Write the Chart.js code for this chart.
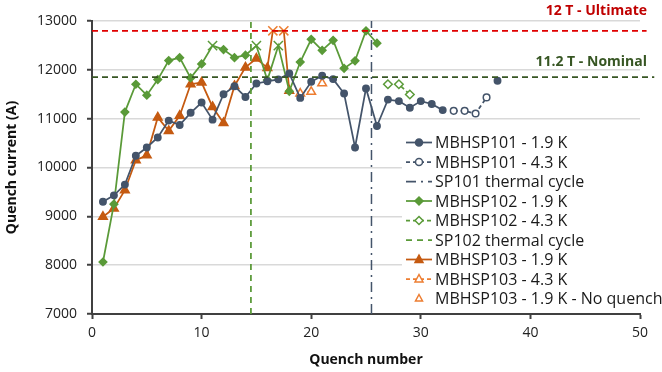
<!DOCTYPE html>
<html>
<head>
<meta charset="utf-8">
<script src="https://cdn.jsdelivr.net/npm/chart.js@4"></script>
<style>
  html, body { margin: 0; padding: 0; background: #fff; }
  #wrap { width: 662px; height: 372px; }
</style>
</head>
<body>
<div id="wrap"><canvas id="quenchChart" width="662" height="372"></canvas></div>
<script>
// quench numbers and currents (A)
let sp101Cold = [9300, 9430, 9650, 10240, 10410, 10615, 10960, 10870, 11120, 11330, 10980, 11500, 11665, 11445, 11720, 11765,
  11805, 11925, 11425, 11755, 11880, 11810, 11515, 10410, 11620, 10850, 11390, 11360, 11225, 11360, 11300, 11175];
let sp101ColdLast = { x: 37, y: 11775 };
let sp101WarmX = [33, 34, 35, 36];
let sp101Warm = [11160, 11160, 11105, 11435];

let sp102Cold = [8065, 9250, 11135, 11705, 11480, 11800, 12190, 12250, 11835, 12120, 12495, 12415, 12250, 12300, 12495, 11790,
  12495, 11560, 12160, 12625, 12400, 12605, 12030, 12185, 12800, 12545];
let sp102NoQuenchX = [11, 15, 17]; // drawn as X markers
let sp102WarmX = [27, 28, 29];
let sp102Warm = [11705, 11705, 11495];

let sp103ColdX = [1, 2, 3, 4, 5, 6, 7, 8, 9, 10, 11, 12, 13, 14, 15, 16, 16.5, 17.5, 18];
let sp103Cold = [8990, 9160, 9535, 10150, 10250, 11025, 10750, 11060, 11705, 11740, 11240, 10910, 11670, 12050, 12230, 12040,
  12800, 12800, 11570];
let sp103CrossX = [16.5, 17.5];
let sp103WarmX = [19, 20];
let sp103Warm = [11515, 11550];
let sp103NoQuench = { x: 21, y: 11725 };

let thermalCycle101 = 25.5;
let thermalCycle102 = 14.5;
let ultimateCurrent = 12800;
let nominalCurrent = 11850;

let navy = '#44546A';
let green = '#5A9A38';
let orange = '#C55A11';
let lightOrange = '#ED7D31';
let darkGreen = '#375623';
let red = '#E00000';

function seq(values, start) {
  return values.map((v, i) => ({ x: start + i, y: v }));
}
function pairs(xs, ys) {
  return xs.map((x, i) => ({ x: x, y: ys[i] }));
}

let sp101ColdData = seq(sp101Cold, 1);
sp101ColdData.push({ x: 34, y: null });
sp101ColdData.push(sp101ColdLast);

// draws the legend box like the spreadsheet one, on the right
const legendBox = {
  id: 'legendBox',
  afterDatasetsDraw(chart) {
    let ctx = chart.ctx;
    let items = [
      { text: 'MBHSP101 - 1.9 K', color: navy, dash: [], marker: 'circle', fill: true },
      { text: 'MBHSP101 - 4.3 K', color: navy, dash: [4, 3], marker: 'circle', fill: false },
      { text: 'SP101 thermal cycle', color: navy, dash: [10, 5, 2, 5], marker: null },
      { text: 'MBHSP102 - 1.9 K', color: green, dash: [], marker: 'diamond', fill: true },
      { text: 'MBHSP102 - 4.3 K', color: green, dash: [4, 3], marker: 'diamond', fill: false },
      { text: 'SP102 thermal cycle', color: green, dash: [6, 5], marker: null },
      { text: 'MBHSP103 - 1.9 K', color: orange, dash: [], marker: 'triangle', fill: true },
      { text: 'MBHSP103 - 4.3 K', color: lightOrange, dash: [4, 3], marker: 'triangle', fill: false },
      { text: 'MBHSP103 - 1.9 K - No quench', color: lightOrange, dash: null, marker: 'triangle', fill: false, small: true }
    ];
    ctx.save();
    ctx.fillStyle = '#fff';
    ctx.fillRect(402, 133, 260, 174);
    ctx.font = '16px "Open Sans"';
    ctx.textBaseline = 'middle';
    items.forEach((it, i) => {
      let y = 142.5 + i * 19.5;
      if (it.dash) {
        ctx.strokeStyle = it.color;
        ctx.lineWidth = 1.75;
        ctx.setLineDash(it.dash);
        ctx.beginPath();
        ctx.moveTo(406, y);
        ctx.lineTo(432, y);
        ctx.stroke();
        ctx.setLineDash([]);
      }
      if (it.marker) {
        drawMarker(ctx, it.marker, 419, y, it.small ? 3 : 3.5, it.color, it.fill);
      }
      ctx.fillStyle = '#1a1a1a';
      ctx.fillText(it.text, 435, y + 1);
    });
    ctx.restore();
  }
};

function drawMarker(ctx, kind, x, y, r, color, fill) {
  ctx.beginPath();
  if (kind === 'circle') {
    ctx.arc(x, y, r, 0, Math.PI * 2);
  } else if (kind === 'diamond') {
    ctx.moveTo(x, y - r - 0.5);
    ctx.lineTo(x + r + 0.5, y);
    ctx.lineTo(x, y + r + 0.5);
    ctx.lineTo(x - r - 0.5, y);
    ctx.closePath();
  } else {
    ctx.moveTo(x, y - r - 1);
    ctx.lineTo(x + r + 0.5, y + r - 0.5);
    ctx.lineTo(x - r - 0.5, y + r - 0.5);
    ctx.closePath();
  }
  ctx.lineWidth = 1.5;
  ctx.strokeStyle = color;
  ctx.fillStyle = fill ? color : '#fff';
  ctx.fill();
  ctx.stroke();
}

// limit labels written in the top right
const limitLabels = {
  id: 'limitLabels',
  afterDraw(chart) {
    let ctx = chart.ctx;
    ctx.save();
    ctx.font = 'bold 14px "Open Sans"';
    ctx.textAlign = 'right';
    ctx.textBaseline = 'middle';
    ctx.fillStyle = '#C00000';
    ctx.fillText('12 T - Ultimate', 647, 11);
    ctx.fillStyle = darkGreen;
    ctx.fillText('11.2 T - Nominal', 647, 62);
    ctx.restore();
  }
};

function lineSet(label, data, color, opts) {
  return Object.assign({
    label: label,
    data: data,
    borderColor: color,
    backgroundColor: color,
    pointBorderColor: color,
    showLine: true,
    borderWidth: 1.75,
    pointRadius: 4,
    pointBorderWidth: 1.5,
    spanGaps: false,
    tension: 0
  }, opts || {});
}

let ctx = document.getElementById('quenchChart').getContext('2d');

let chart = new Chart(ctx, {
  type: 'scatter',
  data: {
    datasets: [
      lineSet('12 T - Ultimate', [{ x: 0, y: ultimateCurrent }, { x: 50.6, y: ultimateCurrent }], red,
        { borderDash: [6, 4], pointRadius: 0, borderWidth: 1.75, clip: false }),
      lineSet('11.2 T - Nominal', [{ x: 0, y: nominalCurrent }, { x: 51.3, y: nominalCurrent }], darkGreen,
        { borderDash: [6, 4], pointRadius: 0, borderWidth: 1.75, clip: false }),
      lineSet('SP101 thermal cycle', [{ x: thermalCycle101, y: 7000 }, { x: thermalCycle101, y: 13000 }], navy,
        { borderDash: [10, 5, 2, 5], pointRadius: 0, borderWidth: 1.5 }),
      lineSet('SP102 thermal cycle', [{ x: thermalCycle102, y: 7000 }, { x: thermalCycle102, y: 13000 }], green,
        { borderDash: [6, 5], pointRadius: 0, borderWidth: 1.75 }),
      lineSet('MBHSP101 - 1.9 K', sp101ColdData, navy, { pointStyle: 'circle', pointRadius: 3.2 }),
      lineSet('MBHSP101 - 4.3 K', pairs(sp101WarmX, sp101Warm), navy,
        { borderDash: [4, 3], pointStyle: 'circle', pointRadius: 3.3, pointBackgroundColor: '#fff' }),
      lineSet('MBHSP102 - 1.9 K', seq(sp102Cold, 1), green, {
        pointStyle: ctx => sp102NoQuenchX.includes(ctx.raw && ctx.raw.x) ? 'crossRot' : 'rectRot',
        pointRadius: ctx => sp102NoQuenchX.includes(ctx.raw && ctx.raw.x) ? 6.5 : 3.8
      }),
      lineSet('MBHSP102 - 4.3 K', pairs(sp102WarmX, sp102Warm), green,
        { borderDash: [4, 3], pointStyle: 'rectRot', pointRadius: 4.3, pointBackgroundColor: '#fff' }),
      lineSet('MBHSP103 - 1.9 K', pairs(sp103ColdX, sp103Cold), orange, {
        pointStyle: ctx => sp103CrossX.includes(ctx.raw && ctx.raw.x) ? 'crossRot' : 'triangle',
        pointRadius: ctx => sp103CrossX.includes(ctx.raw && ctx.raw.x) ? 6.5 : 5,
        pointBorderColor: ctx => sp103CrossX.includes(ctx.raw && ctx.raw.x) ? lightOrange : orange
      }),
      lineSet('MBHSP103 - 4.3 K', pairs(sp103WarmX, sp103Warm), lightOrange,
        { borderDash: [4, 3], pointStyle: 'triangle', pointRadius: 5, pointBackgroundColor: '#fff' }),
      lineSet('MBHSP103 - 1.9 K - No quench', [sp103NoQuench], lightOrange,
        { showLine: false, pointStyle: 'triangle', pointRadius: 5, pointBackgroundColor: '#fff' })
    ]
  },
  options: {
    responsive: false,
    animation: false,
    layout: { padding: { top: 21, right: 22, left: 0, bottom: 0 } },
    plugins: {
      legend: { display: false },
      tooltip: { enabled: false },
      title: { display: false }
    },
    scales: {
      x: {
        type: 'linear',
        min: 0,
        max: 50,
        afterFit: s => { s.height = 58; },
        ticks: { stepSize: 10, color: '#222', padding: 6, font: { family: 'Open Sans', size: 14 },
          callback: v => String(v) },
        grid: { drawOnChartArea: false, drawTicks: true, tickLength: 5, tickColor: '#404040', tickWidth: 2 },
        border: { color: '#404040', width: 2 },
        title: { display: true, text: 'Quench number', color: '#111', padding: { top: 0, bottom: 4 },
          font: { family: 'Open Sans', size: 14, weight: 'bold' } }
      },
      y: {
        min: 7000,
        max: 13000,
        afterFit: s => { s.width = 92; },
        ticks: { stepSize: 1000, color: '#222', padding: 10, font: { family: 'Open Sans', size: 14 },
          callback: v => String(v) },
        grid: { color: '#d9d9d9', lineWidth: 1.5, tickLength: 5, tickColor: '#404040', tickWidth: 2 },
        border: { color: '#404040', width: 2 },
        title: { display: true, text: 'Quench current (A)', color: '#111', padding: { top: 4, bottom: 0 },
          font: { family: 'Open Sans', size: 14, weight: 'bold' } }
      }
    }
  },
  plugins: [legendBox, limitLabels]
});
</script>
</body>
</html>
